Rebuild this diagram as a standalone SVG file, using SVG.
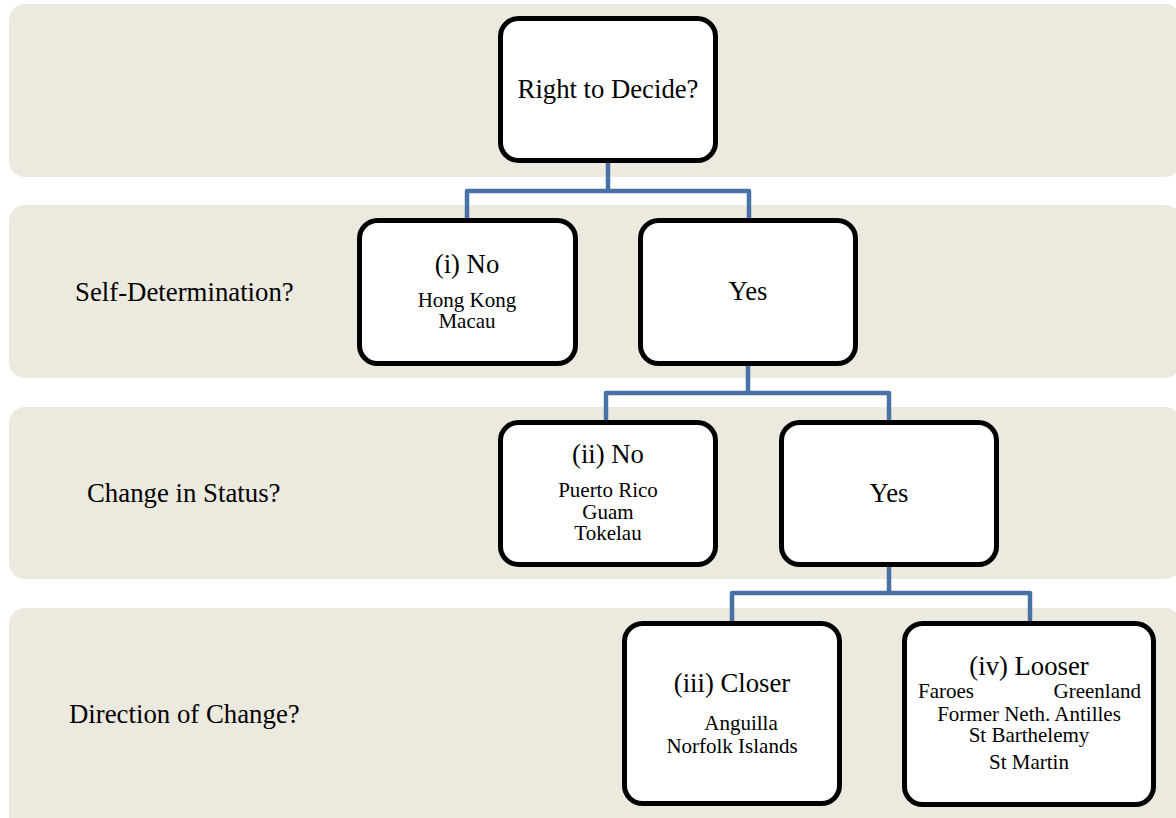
<svg xmlns="http://www.w3.org/2000/svg" width="1176" height="818" viewBox="0 0 1176 818">
<style>
.band{fill:#ECE9DF}
.box{fill:#fff;stroke:#000;stroke-width:5}
.conn{fill:none;stroke:#4871A6;stroke-width:4.5;stroke-linejoin:round}
text{font-family:"Liberation Serif","Times New Roman",serif;fill:#000}
.h{font-size:26.7px;text-anchor:middle}
.lab{font-size:26.8px}
.s{font-size:21px;text-anchor:middle}
</style>
<g id="bands">
<rect class="band" x="9" y="4" width="1172" height="173" rx="16"/>
<rect class="band" x="9" y="205" width="1172" height="173" rx="16"/>
<rect class="band" x="9" y="407" width="1172" height="172" rx="16"/>
<rect class="band" x="9" y="608" width="1172" height="240" rx="16"/>
</g>
<g id="band-labels">
<text class="lab" x="75" y="301">Self-Determination?</text>
<text class="lab" x="87" y="502">Change in Status?</text>
<text class="lab" x="69" y="723">Direction of Change?</text>
</g>
<g id="connectors">
<path class="conn" d="M608,163 V191 M467,218 V191 H749 V218"/>
<path class="conn" d="M748,366 V393 M606,420 V393 H889 V420"/>
<path class="conn" d="M889,567 V593 M732,621 V593 H1030 V621"/>
</g>
<g id="node-root">
<rect class="box" x="500.5" y="18.5" width="215" height="142" rx="18"/>
<text class="h" x="608" y="98">Right to Decide?</text>
</g>
<g id="node-i">
<rect class="box" x="359.5" y="220.5" width="216" height="143" rx="18"/>
<text class="h" x="467" y="273">(i) No</text>
<text class="s" x="467" y="307">Hong Kong</text>
<text class="s" x="467" y="328">Macau</text>
</g>
<g id="node-yes1">
<rect class="box" x="640.5" y="220.5" width="215" height="143" rx="18"/>
<text class="h" x="748" y="300">Yes</text>
</g>
<g id="node-ii">
<rect class="box" x="500.5" y="422.5" width="215" height="142" rx="18"/>
<text class="h" x="608" y="463">(ii) No</text>
<text class="s" x="608" y="497">Puerto Rico</text>
<text class="s" x="608" y="519">Guam</text>
<text class="s" x="608" y="540">Tokelau</text>
</g>
<g id="node-yes2">
<rect class="box" x="781.5" y="422.5" width="215" height="142" rx="18"/>
<text class="h" x="889" y="502">Yes</text>
</g>
<g id="node-iii">
<rect class="box" x="624.5" y="623.5" width="215" height="180" rx="18"/>
<text class="h" x="732" y="692">(iii) Closer</text>
<text class="s" x="741" y="730">Anguilla</text>
<text class="s" x="732" y="753">Norfolk Islands</text>
</g>
<g id="node-iv">
<rect class="box" x="904.5" y="623.5" width="249" height="181" rx="18"/>
<text class="h" x="1029" y="675">(iv) Looser</text>
<text class="s" x="918" y="698" style="text-anchor:start">Faroes</text>
<text class="s" x="1141" y="698" style="text-anchor:end">Greenland</text>
<text class="s" x="1029" y="721">Former Neth. Antilles</text>
<text class="s" x="1029" y="742">St Barthelemy</text>
<text class="s" x="1029" y="769">St Martin</text>
</g>
</svg>
